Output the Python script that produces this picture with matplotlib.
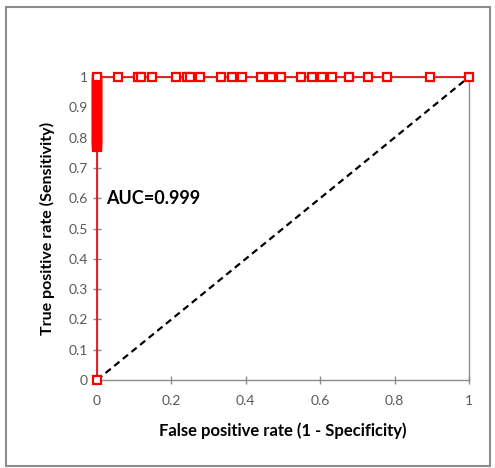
import matplotlib.pyplot as plt
import matplotlib.patches as patches

# ROC points: the stack at FPR = 0, then the run along TPR = 1
stack_tpr = [0.770, 0.775, 0.780, 0.785, 0.790, 0.795, 0.800, 0.805, 0.810, 0.815,
             0.820, 0.825, 0.830, 0.835, 0.840, 0.845, 0.850, 0.855, 0.860, 0.865,
             0.870, 0.875, 0.880, 0.885, 0.890, 0.895, 0.900, 0.905, 0.910, 0.915,
             0.920, 0.925, 0.930, 0.935, 0.940, 0.945, 0.950, 0.955, 0.960, 0.965,
             0.970, 0.975, 0.980, 0.985, 0.990, 0.995]
top_fpr = [0.057, 0.109, 0.117, 0.147, 0.212, 0.242, 0.250, 0.276, 0.333, 0.364,
           0.390, 0.441, 0.468, 0.495, 0.548, 0.578, 0.605, 0.632, 0.678, 0.729,
           0.780, 0.895, 1.0]

fpr = [0.0] + [0.0] * len(stack_tpr) + [0.0] + top_fpr
tpr = [0.0] + stack_tpr + [1.0] + [1.0] * len(top_fpr)

ticks = [0, 0.1, 0.2, 0.3, 0.4, 0.5, 0.6, 0.7, 0.8, 0.9, 1]
ytick_labels = ['0', '0.1', '0.2', '0.3', '0.4', '0.5', '0.6', '0.7', '0.8', '0.9', '1']
xticks = [0, 0.2, 0.4, 0.6, 0.8, 1]
xtick_labels = ['0', '0.2', '0.4', '0.6', '0.8', '1']
auc_text = "AUC=0.999"

plt.rcParams['font.family'] = ['Lato', 'DejaVu Sans']

fig = plt.figure(figsize=(4.95, 4.68), dpi=100)
ax = fig.add_axes([97 / 495, 1 - 380 / 468, 372 / 495, 303 / 468])

# chart area border
fig.patches.append(patches.Rectangle((6 / 495, 2 / 468), 484 / 495, 459 / 468,
                                     transform=fig.transFigure, fill=False,
                                     edgecolor='#8c8c8c', linewidth=1.5))

ax.plot([0, 1], [0, 1], color='black', linestyle=(0, (3, 2)), linewidth=1.6, zorder=2)
ax.plot(fpr, tpr, color='#e8141b', linewidth=1.3, marker='s', markersize=6,
        markerfacecolor='white', markeredgecolor='#ff0000', markeredgewidth=1.6,
        clip_on=False, zorder=4)

ax.text(0.025, 0.6, auc_text, fontsize=13, fontweight='bold', va='center', ha='left')

ax.set_xlim(0, 1)
ax.set_ylim(0, 1)
ax.set_xticks(xticks)
ax.set_xticklabels(xtick_labels)
ax.set_yticks(ticks)
ax.set_yticklabels(ytick_labels)
ax.tick_params(direction='inout', length=6, width=1, color='#8c8c8c',
               labelcolor='#595959', labelsize=10)
ax.tick_params(axis='x', pad=8)

for side in ax.spines:
    ax.spines[side].set_color('#8c8c8c')
    ax.spines[side].set_linewidth(1)

ax.set_xlabel("False positive rate (1 - Specificity)", fontsize=12, fontweight='bold',
              labelpad=11)
ax.set_ylabel("True positive rate (Sensitivity)", fontsize=11.5, fontweight='bold',
              labelpad=10)

fig.savefig("out.png", dpi=100)
